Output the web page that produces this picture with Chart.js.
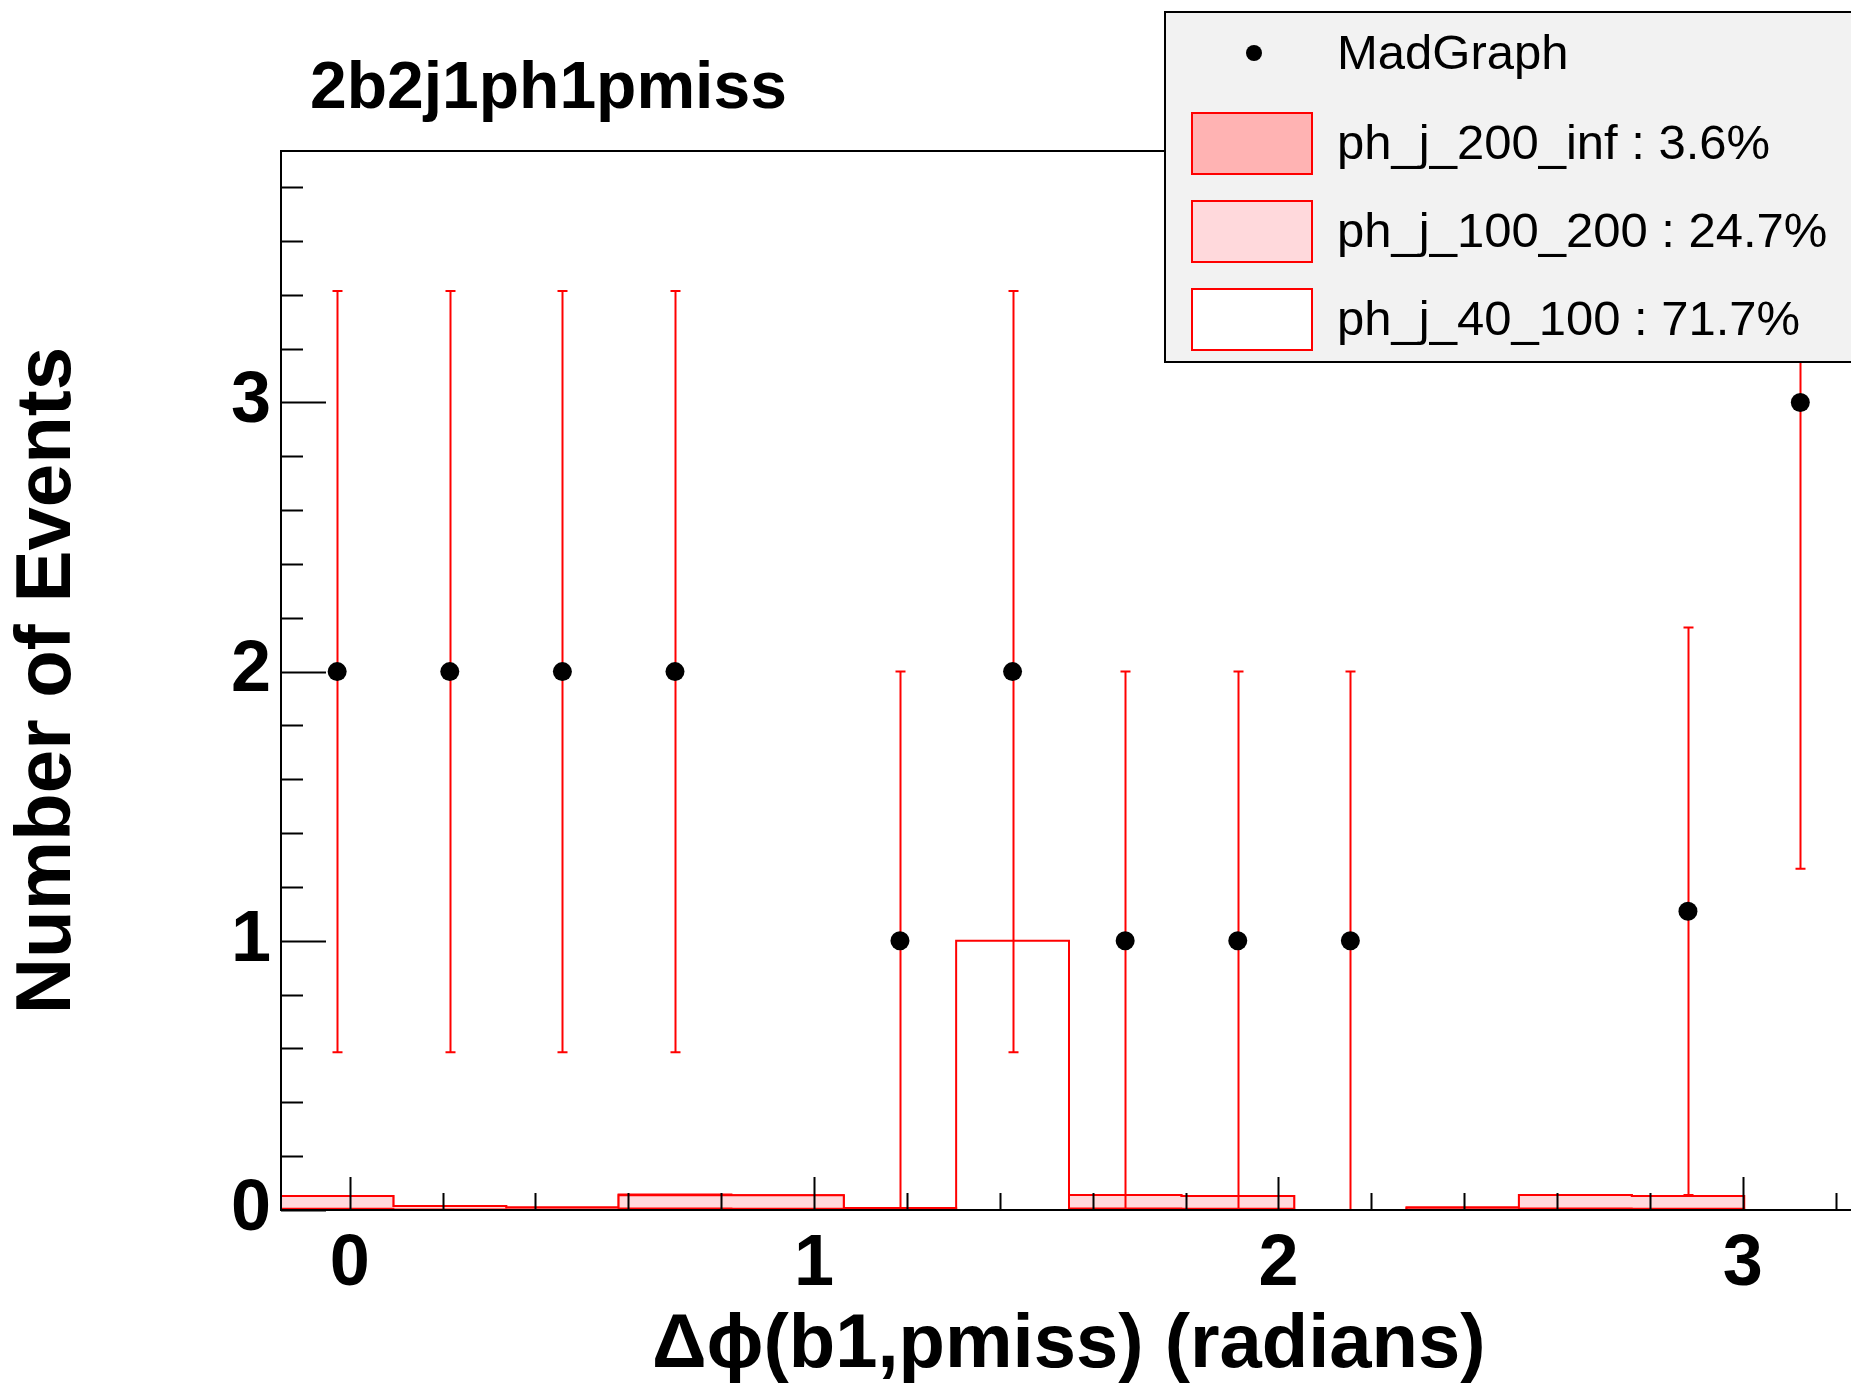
<!DOCTYPE html>
<html>
<head>
<meta charset="utf-8">
<title>2b2j1ph1pmiss</title>
<script src="https://cdn.jsdelivr.net/npm/chart.js@4.4.1/dist/chart.umd.min.js"></script>
<style>
  html, body { margin: 0; padding: 0; background: #fff; overflow: hidden; }
  #wrap { width: 1866px; height: 1392px; }
</style>
</head>
<body>
<div id="wrap"><canvas id="histChart" width="1866" height="1392"></canvas></div>
<script>
// bin edges of the delta-phi histogram (radians)
const binEdges = [-0.148, 0.094, 0.337, 0.579, 0.822, 1.064, 1.306, 1.549, 1.791, 2.034, 2.276, 2.518, 2.761, 3.003, 3.245];

// MadGraph points, null = empty bin (nothing drawn)
const madgraph    = [2, 2, 2, 2, null, 1, 2, 1, 1, 1, null, null, 1.11, 3];
const madgraphErr = [1.414, 1.414, 1.414, 1.414, null, 1, 1.414, 1, 1, 1, null, null, 1.054, 1.732];

// stacked components, bottom to top
const phJ200inf   = [0.005, 0.002, 0.001, 0.006, 0.005, 0.001, 0, 0.006, 0.005, 0, 0.002, 0.006, 0.005, 0];
const phJ100to200 = [0.047, 0.013, 0.008, 0.049, 0.050, 0.006, 0, 0.050, 0.047, 0, 0.007, 0.050, 0.047, 0];
const phJ40to100  = [0, 0, 0, 0.003, 0, 0, 1.0, 0, 0, 0, 0, 0, 0, 0];

const xTicks = [0, 1, 2, 3];
const yTicks = [0, 1, 2, 3];

const chartTitle = "2b2j1ph1pmiss";
const legendLabels = ["MadGraph", "ph_j_200_inf : 3.6%", "ph_j_100_200 : 24.7%", "ph_j_40_100 : 71.7%"];

const RED = "#ff0000";
const FONT = '"Liberation Sans", Arial, Helvetica, sans-serif';

// bin centres for the data points
const centers = binEdges.slice(0, -1).map((e, i) => (e + binEdges[i + 1]) / 2);

// cumulative step outline for one layer of the stack
function stackLayer(base, comp) {
  const top = comp.map((v, i) => v + base[i]);
  const pts = [{ x: binEdges[0], y: 0 }];
  top.forEach((v, i) => pts.push({ x: binEdges[i], y: v }));
  pts.push({ x: binEdges[binEdges.length - 1], y: 0 });
  return { top, pts };
}

const zeros = phJ200inf.map(() => 0);
const layer1 = stackLayer(zeros, phJ200inf);
const layer2 = stackLayer(layer1.top, phJ100to200);
const layer3 = stackLayer(layer2.top, phJ40to100);

/* ---------- error bars, drawn just before the MadGraph markers ---------- */
const errorBars = {
  id: "errorBars",
  beforeDatasetDraw(chart, args) {
    if (args.index !== 0) return;
    const { ctx, chartArea: a, scales: { x, y } } = chart;
    ctx.save();
    ctx.beginPath();
    ctx.rect(a.left, a.top, a.right - a.left, a.bottom - a.top);
    ctx.clip();
    ctx.strokeStyle = RED;
    ctx.lineWidth = 2;
    madgraph.forEach((v, i) => {
      if (v === null) return;
      const px = Math.round(x.getPixelForValue(centers[i])) + 0.5;
      const lo = y.getPixelForValue(v - madgraphErr[i]);
      const hi = y.getPixelForValue(v + madgraphErr[i]);
      ctx.beginPath();
      ctx.moveTo(px, lo); ctx.lineTo(px, hi);
      ctx.moveTo(px - 5, lo); ctx.lineTo(px + 5, lo);
      ctx.moveTo(px - 5, hi); ctx.lineTo(px + 5, hi);
      ctx.stroke();
    });
    ctx.restore();
  }
};

/* ---------- ROOT style frame with inward ticks ---------- */
const rootFrame = {
  id: "rootFrame",
  afterDatasetsDraw(chart) {
    const { ctx, chartArea: a, scales: { x, y } } = chart;
    ctx.save();
    ctx.strokeStyle = "#000";
    ctx.lineWidth = 2;
    ctx.strokeRect(a.left, a.top, a.right - a.left, a.bottom - a.top);
    ctx.beginPath();
    for (let k = -1; k <= 17; k++) {
      const v = k / 5;
      if (v < x.min || v > x.max) continue;
      const px = Math.round(x.getPixelForValue(v)) + 0.5;
      const len = k % 5 === 0 ? 33 : 17;
      ctx.moveTo(px, a.bottom); ctx.lineTo(px, a.bottom - len);
    }
    for (let k = 0; k <= 19; k++) {
      const v = k / 5;
      if (v > y.max) continue;
      const py = Math.round(y.getPixelForValue(v)) + 0.5;
      const len = k % 5 === 0 ? 45 : 22;
      ctx.moveTo(a.left, py); ctx.lineTo(a.left + len, py);
    }
    ctx.stroke();

    // title
    ctx.fillStyle = "#000";
    ctx.font = "bold 66px " + FONT;
    ctx.textBaseline = "alphabetic";
    ctx.fillText(chartTitle, 310, 108);
    ctx.restore();
  }
};

/* ---------- legend box in the top right corner ---------- */
const rootLegend = {
  id: "rootLegend",
  afterDraw(chart) {
    const { ctx } = chart;
    const ds = chart.data.datasets;
    ctx.save();
    ctx.fillStyle = "#f2f2f2";
    ctx.fillRect(1165, 12, 710, 350);
    ctx.strokeStyle = "#000";
    ctx.lineWidth = 2;
    ctx.strokeRect(1165, 12, 710, 350);

    const rows = [53, 143, 231, 319];
    ctx.font = "49px " + FONT;
    ctx.textBaseline = "middle";
    rows.forEach((cy, i) => {
      if (i === 0) {
        ctx.fillStyle = "#000";
        ctx.beginPath();
        ctx.arc(1254, cy, 8, 0, Math.PI * 2);
        ctx.fill();
      } else {
        ctx.fillStyle = ds[i].backgroundColor;
        ctx.fillRect(1192, cy - 30, 120, 61);
        ctx.strokeStyle = RED;
        ctx.lineWidth = 2;
        ctx.strokeRect(1192, cy - 30, 120, 61);
      }
      ctx.fillStyle = "#000";
      ctx.fillText(legendLabels[i], 1337, cy + 2);
    });
    ctx.restore();
  }
};

function histDataset(label, layer, fill, color) {
  return {
    label: label,
    data: layer.pts,
    stepped: "before",
    borderColor: RED,
    borderWidth: 2,
    backgroundColor: color,
    fill: fill,
    pointRadius: 0,
    tension: 0
  };
}

new Chart(document.getElementById("histChart"), {
  type: "line",
  data: {
    datasets: [
      {
        label: legendLabels[0],
        data: madgraph.map((v, i) => ({ x: centers[i], y: v })),
        showLine: false,
        pointRadius: 9.5,
        pointBackgroundColor: "#000",
        pointBorderWidth: 0,
        spanGaps: false
      },
      histDataset(legendLabels[1], layer1, "origin", "#ffb3b3"),
      histDataset(legendLabels[2], layer2, "-1", "#ffd9dc"),
      histDataset(legendLabels[3], layer3, "-1", "#ffffff")
    ]
  },
  options: {
    responsive: false,
    animation: false,
    layout: { padding: { top: 151, right: 3, left: 0, bottom: 0 } },
    plugins: {
      legend: { display: false },
      tooltip: { enabled: false },
      title: { display: false }
    },
    scales: {
      x: {
        type: "linear",
        min: binEdges[0],
        max: binEdges[binEdges.length - 1],
        grid: { display: false, drawTicks: false },
        border: { display: false },
        afterBuildTicks: (s) => { s.ticks = xTicks.map((v) => ({ value: v })); },
        afterFit: (s) => { s.height = 182; },
        ticks: {
          autoSkip: false,
          maxRotation: 0,
          padding: 12,
          color: "#000",
          font: { family: FONT, size: 72, weight: "bold" }
        },
        title: {
          display: true,
          text: "Δϕ(b1,pmiss) (radians)",
          color: "#000",
          font: { family: FONT, size: 76, weight: "bold" },
          padding: { top: 0, bottom: 0 }
        }
      },
      y: {
        min: 0,
        max: 3.934,
        grid: { display: false, drawTicks: false },
        border: { display: false },
        afterBuildTicks: (s) => { s.ticks = yTicks.map((v) => ({ value: v })); },
        afterFit: (s) => { s.width = 281; },
        ticks: {
          padding: 10,
          color: "#000",
          font: { family: FONT, size: 72, weight: "bold" }
        },
        title: {
          display: true,
          text: "Number of Events",
          color: "#000",
          font: { family: FONT, size: 78, weight: "bold" },
          padding: { top: 2, bottom: 0 }
        }
      }
    }
  },
  plugins: [errorBars, rootFrame, rootLegend]
});
</script>
</body>
</html>
